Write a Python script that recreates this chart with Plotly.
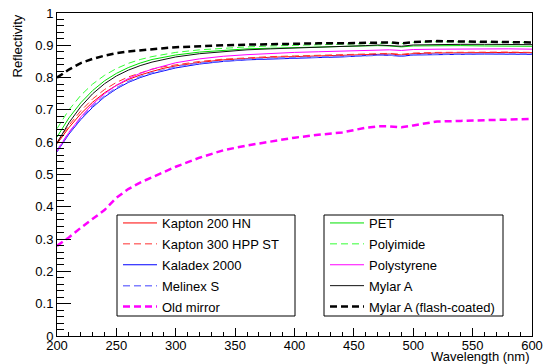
import plotly.graph_objects as go

wavelength = [200, 210, 220, 230, 240, 250, 260, 270, 280, 290, 300, 320, 340, 360, 380,
              400, 420, 440, 460, 470, 480, 490, 500, 520, 540, 560, 580, 600]

kapton_200_hn = [0.595, 0.645, 0.688, 0.724, 0.753, 0.776, 0.794, 0.808, 0.819, 0.829, 0.836, 0.847, 0.855, 0.860,
                 0.863, 0.865, 0.867, 0.869, 0.873, 0.874, 0.873, 0.870, 0.874, 0.876, 0.877, 0.878, 0.878, 0.877]
kapton_300_hpp = [0.600, 0.652, 0.697, 0.734, 0.763, 0.785, 0.802, 0.815, 0.826, 0.834, 0.840, 0.850, 0.857, 0.862,
                  0.865, 0.867, 0.869, 0.871, 0.875, 0.876, 0.875, 0.872, 0.876, 0.878, 0.879, 0.879, 0.879, 0.878]
kaladex_2000 = [0.570, 0.625, 0.670, 0.708, 0.740, 0.765, 0.785, 0.800, 0.812, 0.822, 0.830, 0.842, 0.850, 0.855,
                0.858, 0.860, 0.862, 0.864, 0.869, 0.870, 0.869, 0.866, 0.870, 0.872, 0.872, 0.873, 0.873, 0.872]
melinex_s = [0.574, 0.629, 0.674, 0.712, 0.743, 0.768, 0.788, 0.803, 0.815, 0.825, 0.833, 0.845, 0.852, 0.857,
             0.860, 0.862, 0.864, 0.866, 0.870, 0.871, 0.870, 0.867, 0.871, 0.873, 0.874, 0.874, 0.874, 0.874]
old_mirror = [0.279, 0.305, 0.335, 0.362, 0.390, 0.428, 0.455, 0.475, 0.492, 0.508, 0.524, 0.552, 0.575, 0.590,
              0.603, 0.614, 0.623, 0.630, 0.645, 0.649, 0.649, 0.646, 0.652, 0.664, 0.666, 0.668, 0.670, 0.672]
pet = [0.616, 0.675, 0.722, 0.760, 0.790, 0.813, 0.831, 0.845, 0.856, 0.864, 0.870, 0.879, 0.885, 0.889,
       0.891, 0.893, 0.894, 0.895, 0.898, 0.899, 0.898, 0.895, 0.898, 0.899, 0.899, 0.898, 0.898, 0.897]
polyimide = [0.642, 0.700, 0.745, 0.780, 0.807, 0.828, 0.844, 0.856, 0.865, 0.872, 0.878, 0.886, 0.891, 0.895,
             0.898, 0.900, 0.901, 0.903, 0.906, 0.908, 0.907, 0.905, 0.909, 0.911, 0.911, 0.910, 0.910, 0.909]
polystyrene = [0.572, 0.630, 0.678, 0.718, 0.750, 0.776, 0.797, 0.813, 0.826, 0.837, 0.846, 0.858, 0.866, 0.871,
               0.875, 0.878, 0.880, 0.882, 0.886, 0.887, 0.886, 0.884, 0.887, 0.888, 0.889, 0.889, 0.889, 0.888]
mylar_a = [0.597, 0.660, 0.710, 0.750, 0.781, 0.805, 0.823, 0.837, 0.848, 0.857, 0.864, 0.874, 0.881, 0.886,
           0.889, 0.891, 0.893, 0.895, 0.899, 0.901, 0.900, 0.897, 0.901, 0.903, 0.903, 0.903, 0.903, 0.902]
mylar_a_flash = [0.800, 0.825, 0.845, 0.858, 0.868, 0.876, 0.881, 0.885, 0.888, 0.891, 0.894, 0.898, 0.900, 0.902,
                 0.904, 0.905, 0.906, 0.906, 0.908, 0.910, 0.909, 0.906, 0.910, 0.913, 0.912, 0.911, 0.910, 0.909]

series = [
    ("Kapton 200 HN", kapton_200_hn, "#ff0000", "solid", 1, "legend"),
    ("Kapton 300 HPP ST", kapton_300_hpp, "#ff3030", "7px,4px", 1, "legend"),
    ("Kaladex 2000", kaladex_2000, "#0000ff", "solid", 1, "legend"),
    ("Melinex S", melinex_s, "#7f7fff", "7px,4px", 1.5, "legend"),
    ("Old mirror", old_mirror, "#ff00ff", "7px,4px", 2.5, "legend"),
    ("PET", pet, "#00e000", "solid", 1, "legend2"),
    ("Polyimide", polyimide, "#33ff33", "7px,4px", 1, "legend2"),
    ("Polystyrene", polystyrene, "#ff00ff", "solid", 1, "legend2"),
    ("Mylar A", mylar_a, "#111111", "solid", 1, "legend2"),
    ("Mylar A (flash-coated)", mylar_a_flash, "#000000", "7px,4px", 2.5, "legend2"),
]

fig = go.Figure()
for name, vals, color, dash, width, leg in series:
    fig.add_trace(go.Scatter(x=wavelength, y=vals, mode="lines", name=name,
                             line=dict(color=color, dash=dash, width=width),
                             legend=leg, legendgroup=name))

font = "Liberation Sans, Arial, Helvetica, sans-serif"
W, H = 543, 364
L, T = 57, 13
R = W - 532
B = H - 336
pw, ph = W - L - R, H - T - B

def px_x(p):
    return (p - L) / pw

def px_y(p):
    return (H - B - p) / ph

axis_common = dict(showline=True, linecolor="black", linewidth=1, mirror=True,
                   ticks="inside", tickcolor="black", tickwidth=1,
                   showgrid=False, zeroline=False, automargin=False,
                   ticklabeloverflow="allow",
                   tickfont=dict(family=font, size=13, color="black"))

fig.update_xaxes(range=[200, 600], dtick=50, tick0=200, ticklen=8,
                 ticklabelstandoff=-3,
                 minor=dict(ticks="inside", dtick=10, ticklen=4, tickcolor="black"),
                 **axis_common)
fig.update_yaxes(range=[0, 1], dtick=0.1, tick0=0, ticklen=14,
                 minor=dict(ticks="inside", dtick=0.02, ticklen=7, tickcolor="black"),
                 **axis_common)

legend_style = dict(font=dict(family=font, size=13, color="black"),
                    bgcolor="rgba(0,0,0,0)", borderwidth=0, itemwidth=34,
                    xanchor="left", yanchor="top", tracegroupgap=1)

fig.update_layout(
    width=W, height=H,
    margin=dict(l=L, r=R, t=T, b=B, pad=0),
    paper_bgcolor="white", plot_bgcolor="white",
    showlegend=True,
    legend=dict(x=px_x(118), y=px_y(208), **legend_style),
    legend2=dict(x=px_x(325), y=px_y(208), **legend_style),
    shapes=[
        dict(type="rect", xref="paper", yref="paper",
             x0=px_x(117), x1=px_x(295), y0=px_y(316), y1=px_y(215),
             line=dict(color="black", width=1), fillcolor="rgba(0,0,0,0)"),
        dict(type="rect", xref="paper", yref="paper",
             x0=px_x(324), x1=px_x(503), y0=px_y(316), y1=px_y(215),
             line=dict(color="black", width=1), fillcolor="rgba(0,0,0,0)"),
    ],
    annotations=[
        dict(text="Reflectivity", xref="paper", yref="paper", x=px_x(17), y=1,
             xanchor="center", yanchor="top", textangle=-90, showarrow=False,
             font=dict(family=font, size=13, color="black")),
        dict(text="Wavelength (nm)", xref="paper", yref="paper", x=1, y=px_y(356),
             xanchor="right", yanchor="middle", showarrow=False,
             font=dict(family=font, size=13, color="black")),
    ],
)

fig.write_html(
    "out.html",
    config={"displayModeBar": False},
    post_script="document.body.style.margin='0';document.body.style.overflow='hidden';",
)
